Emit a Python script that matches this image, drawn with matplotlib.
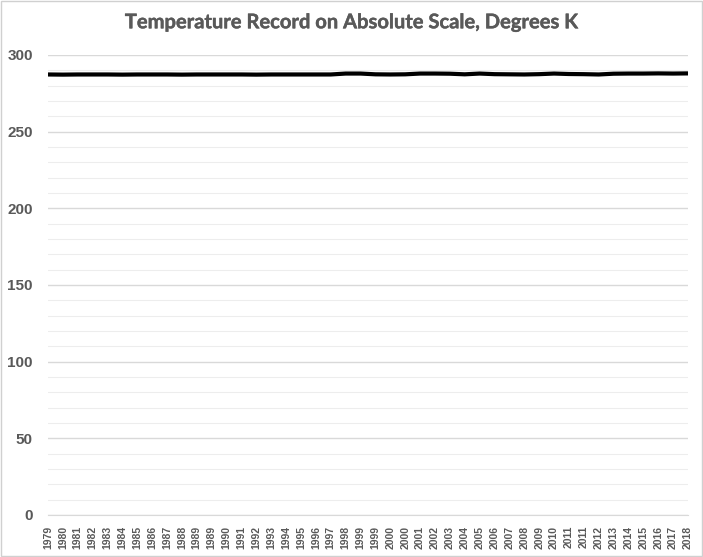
import matplotlib.pyplot as plt
import matplotlib.patheffects as pe
from matplotlib.patches import Rectangle
from matplotlib.ticker import MultipleLocator

# tick labels as shown on the category axis (repeats are in the original)
year_labels = ["1979", "1980", "1981", "1982", "1983", "1984", "1985", "1986",
               "1987", "1988", "1989", "1989", "1990", "1991", "1992", "1993",
               "1994", "1995", "1996", "1997", "1998", "1999", "1999", "2000",
               "2000", "2001", "2002", "2003", "2004", "2005", "2006", "2007",
               "2008", "2009", "2010", "2011", "2011", "2012", "2013", "2014",
               "2015", "2016", "2017", "2018"]

# temperature in K (one value per label slot + end point)
temps_k = [287.3, 287.2, 287.3, 287.3, 287.3, 287.2, 287.3, 287.3,
           287.3, 287.2, 287.3, 287.3, 287.3, 287.3, 287.2, 287.3,
           287.3, 287.3, 287.3, 287.3, 287.9, 287.9, 287.4, 287.3,
           287.4, 287.9, 287.9, 287.8, 287.4, 287.9, 287.5, 287.4,
           287.3, 287.5, 287.9, 287.6, 287.5, 287.3, 287.8, 287.9,
           287.9, 288.0, 287.9, 288.0]

title = "Temperature Record on Absolute Scale, Degrees K"
grey_txt = "#595959"

fig = plt.figure(figsize=(7.03, 5.57), dpi=100)
ax = fig.add_axes([48 / 703, 42 / 557, 640 / 703, 460 / 557])

# light grey frame around the whole chart, like the Excel export
fig.patches.append(Rectangle((0.001, 0.001), 0.997, 0.997, transform=fig.transFigure,
                             fill=False, edgecolor="#d0d0d0", linewidth=1))

xs = list(range(len(temps_k)))
ax.plot(xs, temps_k, color="black", linewidth=3, solid_capstyle="butt", zorder=3)

ax.set_xlim(0, len(temps_k) - 1)
ax.set_ylim(0, 300)
ax.yaxis.set_major_locator(MultipleLocator(50))
ax.yaxis.set_minor_locator(MultipleLocator(10))
ax.grid(which="major", axis="y", color="#d9d9d9", linewidth=1)
ax.grid(which="minor", axis="y", color="#ededed", linewidth=0.8)
ax.set_axisbelow(True)

for side in ["left", "right", "top"]:
    ax.spines[side].set_visible(False)
ax.spines["bottom"].set_color("#d9d9d9")

ax.set_xticks(range(len(year_labels)))
ax.set_xticklabels(year_labels, rotation=90, fontsize=7.5, fontweight="bold",
                   color=grey_txt, family="Liberation Sans")
ax.tick_params(axis="x", length=0, pad=8)
ax.tick_params(axis="y", which="both", length=0, pad=11)
for lbl in ax.get_yticklabels():
    lbl.set_fontsize(11)
    lbl.set_fontweight("bold")
    lbl.set_color(grey_txt)
    lbl.set_family("Liberation Sans")

fig.text(0.5, 0.96, title, ha="center", va="center", fontsize=14.5,
         color=grey_txt, family="Lato", fontweight="bold",
         path_effects=[pe.withStroke(linewidth=0.3, foreground=grey_txt)])

fig.savefig("out.png", dpi=100)
